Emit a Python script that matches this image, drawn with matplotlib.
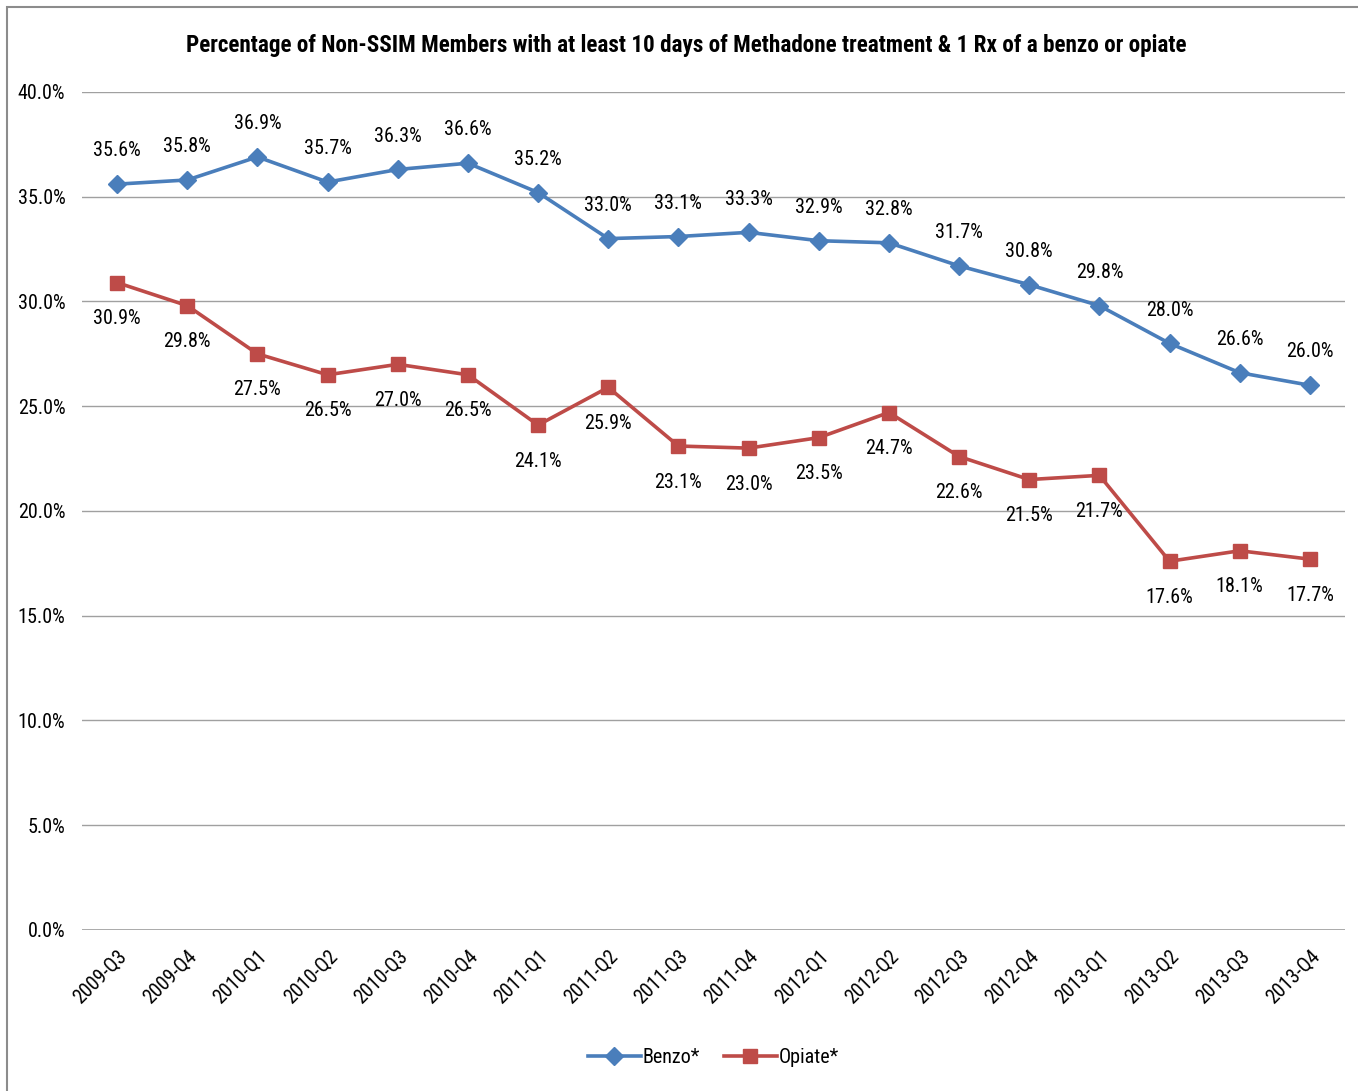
import matplotlib
matplotlib.use("Agg")
import matplotlib.pyplot as plt
import matplotlib.patches as mpatches
from matplotlib import font_manager

# pick a narrow family if one is installed, otherwise fall back to DejaVu
names = {f.name for f in font_manager.fontManager.ttflist}
narrow = [n for n in ["Liberation Sans Narrow", "DejaVu Sans Condensed", "Roboto Condensed",
                      "Open Sans Condensed", "Noto Sans Condensed"] if n in names]
plt.rcParams["font.family"] = narrow[:1] + ["DejaVu Sans"]
FS = 14.5 if narrow else 11.5

quarters = ["2009-Q3", "2009-Q4", "2010-Q1", "2010-Q2", "2010-Q3", "2010-Q4",
            "2011-Q1", "2011-Q2", "2011-Q3", "2011-Q4", "2012-Q1", "2012-Q2",
            "2012-Q3", "2012-Q4", "2013-Q1", "2013-Q2", "2013-Q3", "2013-Q4"]
benzo = [35.6, 35.8, 36.9, 35.7, 36.3, 36.6, 35.2, 33.0, 33.1, 33.3, 32.9, 32.8,
         31.7, 30.8, 29.8, 28.0, 26.6, 26.0]
opiate = [30.9, 29.8, 27.5, 26.5, 27.0, 26.5, 24.1, 25.9, 23.1, 23.0, 23.5, 24.7,
          22.6, 21.5, 21.7, 17.6, 18.1, 17.7]

BLUE = "#4A7EBB"
RED = "#BE4B48"

fig = plt.figure(figsize=(13.58, 10.91), dpi=100)
fig.patch.set_facecolor("white")
ax = fig.add_axes([0.0604, 0.1476, 0.930, 0.7681])

# outer chart frame
fig.patches.append(mpatches.Rectangle((0.005, -0.01), 1.02, 1.004, transform=fig.transFigure,
                                      fill=False, edgecolor="#8c8c8c", lw=1.5))

x = list(range(len(quarters)))
ax.plot(x, benzo, color=BLUE, lw=2.6, marker="D", markersize=9.5, label="Benzo*", zorder=3)
ax.plot(x, opiate, color=RED, lw=2.6, marker="s", markersize=9.5, label="Opiate*", zorder=3)

for xi, v in zip(x, benzo):
    ax.annotate(f"{v:.1f}%", (xi, v), xytext=(0, 24), textcoords="offset points",
                ha="center", va="center", fontsize=FS)
for xi, v in zip(x, opiate):
    ax.annotate(f"{v:.1f}%", (xi, v), xytext=(0, -26), textcoords="offset points",
                ha="center", va="center", fontsize=FS)

ax.set_xlim(-0.5, len(quarters) - 0.5)
ax.set_ylim(0, 40)
ax.set_yticks(range(0, 41, 5))
ax.set_yticklabels([f"{t:.1f}%" for t in range(0, 41, 5)], fontsize=FS)
ax.set_xticks(x)
ax.set_xticklabels(quarters, rotation=45, ha="right", rotation_mode="anchor", fontsize=FS)
ax.tick_params(length=0, pad=12)
ax.tick_params(axis="x", pad=12)
ax.yaxis.grid(True, color="#a0a0a0", lw=1)
ax.set_axisbelow(True)
for s in ax.spines.values():
    s.set_visible(False)
ax.axhline(0, color="#a0a0a0", lw=1.2)

fig.text(0.505, 0.958, "Percentage of Non-SSIM Members with at least 10 days of Methadone treatment & 1 Rx of a benzo or opiate",
         ha="center", va="center", fontsize=16.7 if narrow else 13.5, fontweight="bold")

ax.legend(loc="center", bbox_to_anchor=(0.5, -0.152), ncol=2, frameon=False, fontsize=FS,
          handlelength=2.6, columnspacing=1.2, handletextpad=0.1)

fig.savefig("out.png", dpi=100, facecolor="white")
